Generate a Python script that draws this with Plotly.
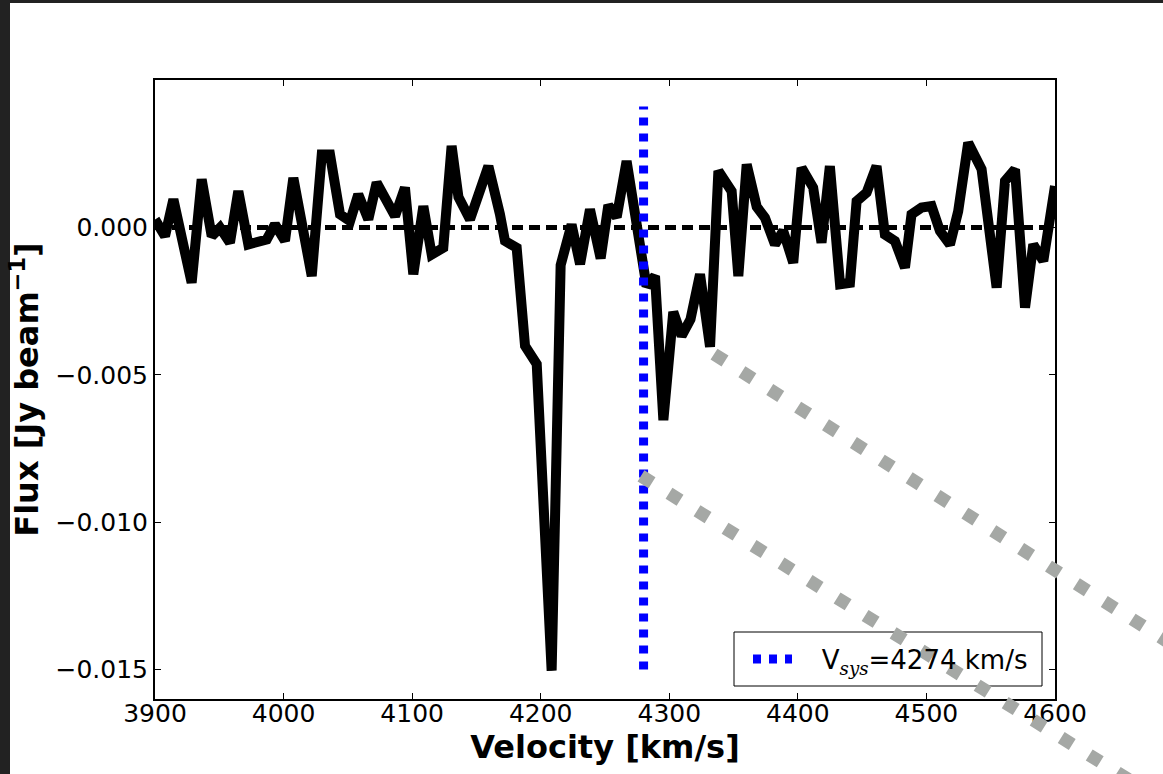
import plotly.graph_objects as go

# ---------------- data ----------------
VELOCITY = [3900, 3907.8, 3914.3, 3928.5, 3936.3, 3944.1, 3950.6, 3958.3, 3964.8, 3972.6,
            3986.9, 3993.3, 4001.1, 4007.6, 4021.9, 4029.7, 4036.1, 4043.9, 4051.7, 4058.1,
            4065.9, 4072.4, 4086.7, 4094.4, 4100.9, 4108.7, 4115.2, 4124.2, 4130.7, 4136.0,
            4145.0, 4159.3, 4168.3, 4172.2, 4181.3, 4187.8, 4196.9, 4208.5, 4215.5, 4224.0,
            4230.6, 4238.3, 4246.6, 4252.6, 4259.1, 4266.8, 4282.3, 4288.9, 4295.4, 4303.1,
            4309.6, 4316.5, 4323.9, 4331.7, 4338.2, 4348.5, 4353.7, 4360.2, 4368.0, 4374.4,
            4382.2, 4388.6, 4396.4, 4402.9, 4411.9, 4418.4, 4424.9, 4432.8, 4440.5, 4445.7,
            4453.5, 4461.2, 4467.7, 4475.5, 4483.3, 4488.4, 4496.2, 4504.0, 4510.5, 4518.3,
            4524.7, 4532.5, 4542.9, 4554.6, 4561.1, 4568.9, 4576.7, 4583.1, 4590.9, 4600.0]

FLUX = [0.00027, -0.00030, 0.00095, -0.00188, 0.00163, -0.00030, -0.00001, -0.00052, 0.00123, -0.00058,
        -0.00041, 0.00010, -0.00046, 0.00168, -0.00165, 0.00247, 0.00247, 0.00044, 0.00021, 0.00112,
        0.00027, 0.00152, 0.00038, 0.00135, -0.00159, 0.00072, -0.00092, -0.00069, 0.00276, 0.00103,
        0.00027, 0.00208, 0.00044, -0.00046, -0.00069, -0.00402, -0.00464, -0.01504, -0.00128, 0.00010,
        -0.00125, 0.00061, -0.00105, 0.00075, 0.00035, 0.00225, -0.00200, -0.00165, -0.00654, -0.00287,
        -0.00368, -0.00312, -0.00159, -0.00405, 0.00191, 0.00123, -0.00165, 0.00214, 0.00070, 0.00033,
        -0.00058, -0.00012, -0.00120, 0.00202, 0.00135, -0.00052, 0.00208, -0.00193, -0.00188, 0.00089,
        0.00118, 0.00208, -0.00024, -0.00046, -0.00137, 0.00044, 0.00067, 0.00072, -0.00012, -0.00058,
        0.00055, 0.00287, 0.00197, -0.00204, 0.00157, 0.00197, -0.00272, -0.00058, -0.00114, 0.00140]

X_RANGE = [3900, 4600]
Y_RANGE = [-0.016, 0.005]
X_TICKS = [3900, 4000, 4100, 4200, 4300, 4400, 4500, 4600]
Y_TICKS = [0.000, -0.005, -0.010, -0.015]

ZERO_LEVEL = 0.0
VSYS_LABEL = 4274          # value quoted in the legend
VSYS_LINE_X = 4280         # where the marker line is drawn
VSYS_LINE_Y = [-0.015, 0.0041]

# inset connector lines (data units: velocity, flux), running off the figure
CONNECTOR_1 = [(4334.8, -0.00430), (4712.8, -0.01475)]
CONNECTOR_2 = [(4278.0, -0.00843), (4712.8, -0.02024)]

# ---------------- layout geometry ----------------
W, H = 1163, 774
ML, MR, MT, MB = 155, 108, 80, 75
PW, PH = W - ML - MR, H - MT - MB

FONT = "DejaVu Sans"
LEGEND_BOX_PX = (734, 632, 1042, 686)   # left, top, right, bottom


def data_to_paper(v, f):
    return ((v - X_RANGE[0]) / (X_RANGE[1] - X_RANGE[0]),
            (f - Y_RANGE[0]) / (Y_RANGE[1] - Y_RANGE[0]))


def px_x(px):
    return (px - ML) / PW


def px_y(py):
    return (H - MB - py) / PH


fig = go.Figure()

fig.add_trace(go.Scatter(
    x=VELOCITY, y=FLUX, mode="lines",
    line=dict(color="black", width=10),
    showlegend=False, hoverinfo="skip"))

fig.add_trace(go.Scatter(
    x=X_RANGE, y=[ZERO_LEVEL, ZERO_LEVEL], mode="lines",
    line=dict(color="black", width=5, dash="11px,6px"),
    showlegend=False, hoverinfo="skip"))

fig.add_trace(go.Scatter(
    x=[VSYS_LINE_X, VSYS_LINE_X], y=VSYS_LINE_Y, mode="lines",
    line=dict(color="#0000ff", width=9, dash="8px,8px"),
    name=("\u00a0\u00a0\u00a0V<sub><span style=\"font-family:'DejaVu Serif'\"><i>sys</i></span></sub>"
          f"={VSYS_LABEL} km/s"),
    showlegend=True, hoverinfo="skip"))

shapes = []

# legend frame
lx0, ly0, lx1, ly1 = LEGEND_BOX_PX
shapes.append(dict(type="rect", xref="paper", yref="paper",
                   x0=px_x(lx0), x1=px_x(lx1), y0=px_y(ly1), y1=px_y(ly0),
                   line=dict(color="black", width=1), fillcolor="rgba(0,0,0,0)",
                   layer="above"))

for (p0, p1) in (CONNECTOR_1, CONNECTOR_2):
    x0, y0 = data_to_paper(*p0)
    x1, y1 = data_to_paper(*p1)
    shapes.append(dict(type="line", xref="paper", yref="paper",
                       x0=x0, y0=y0, x1=x1, y1=y1, layer="above",
                       line=dict(color="#a5a8a5", width=13, dash="13px,20px")))

# dark window frame at the top and left edges of the screenshot
FRAME_COLOR = "#222222"
shapes.append(dict(type="rect", xref="paper", yref="paper",
                   x0=px_x(0), x1=px_x(10), y0=px_y(H), y1=px_y(0),
                   fillcolor=FRAME_COLOR, line=dict(width=0), layer="above"))
shapes.append(dict(type="rect", xref="paper", yref="paper",
                   x0=px_x(0), x1=px_x(W), y0=px_y(3), y1=px_y(0),
                   fillcolor=FRAME_COLOR, line=dict(width=0), layer="above"))

axis_common = dict(
    showgrid=False, zeroline=False,
    showline=True, linecolor="black", linewidth=2, mirror="ticks",
    ticks="inside", ticklen=6, tickwidth=1, tickcolor="black",
    tickfont=dict(family=FONT, size=25, color="black"),
)

fig.update_layout(
    width=W, height=H,
    margin=dict(l=ML, r=MR, t=MT, b=MB, autoexpand=False),
    paper_bgcolor="white", plot_bgcolor="white",
    font=dict(family=FONT, color="black"),
    shapes=shapes,
    xaxis=dict(range=X_RANGE, tickvals=X_TICKS, tickformat="d",
               ticklabelstandoff=-9,
               title=dict(text="Velocity [km/s]", standoff=0,
                          font=dict(family=FONT, size=32, weight="bold", color="black")),
               **axis_common),
    yaxis=dict(range=Y_RANGE, tickvals=Y_TICKS, tickformat=".3f",
               title=dict(text="Flux [Jy beam<sup>\u22121</sup>]", standoff=7,
                          font=dict(family=FONT, size=32, weight="bold", color="black")),
               **axis_common),
    legend=dict(x=px_x(748), xanchor="left", y=px_y((ly0 + ly1) / 2), yanchor="middle",
                itemwidth=39,
                bgcolor="rgba(0,0,0,0)", borderwidth=0,
                font=dict(family=FONT, size=26, color="black")),
)

fig.write_html("out.html")
